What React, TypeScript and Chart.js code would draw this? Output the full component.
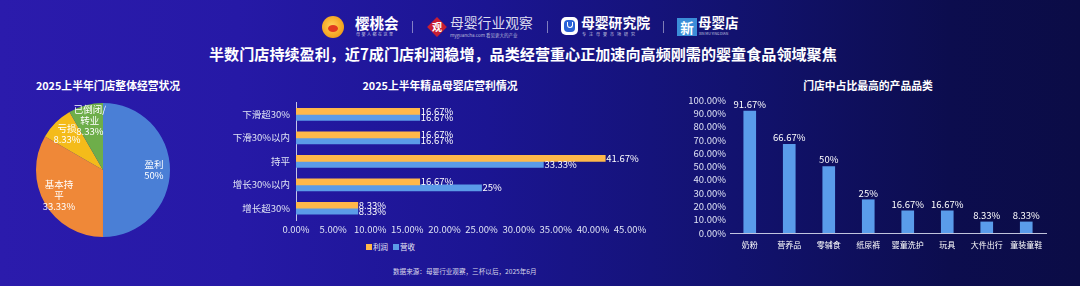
import React, { useEffect, useRef } from "react";
import Chart from "chart.js/auto";

const FONT = '"Noto Sans CJK SC", "Noto Sans", sans-serif';

// Pie: overall store status
const pieTitle = "2025上半年门店整体经营状况";
const pieLabels = ["盈利", "基本持平", "亏损", "已倒闭/转业"];
const pieLabelLines = [["盈利"], ["基本持", "平"], ["亏损"], ["已倒闭/", "转业"]];
const pieValues = [50, 33.33, 8.33, 8.33];
const pieColors = ["#4a7fd6", "#ef8838", "#f4bb1a", "#6eae4a"];

// Horizontal bars: profit / revenue
const barTitle = "2025上半年精品母婴店营利情况";
const barCategories = ["下滑超30%", "下滑30%以内", "持平", "增长30%以内", "增长超30%"];
const profitValues = [16.67, 16.67, 41.67, 16.67, 8.33];
const revenueValues = [16.67, 16.67, 33.33, 25, 8.33];
const seriesNames = ["利润", "营收"];
const seriesColors = ["#ffb84a", "#5b9be8"];

// Columns: top product categories
const colTitle = "门店中占比最高的产品品类";
const colCategories = ["奶粉", "营养品", "零辅食", "纸尿裤", "婴童洗护", "玩具", "大件出行", "童装童鞋"];
const colValues = [91.67, 66.67, 50, 25, 16.67, 16.67, 8.33, 8.33];
const colColor = "#5a9cea";

const headline = "半数门店持续盈利，近7成门店利润稳增，品类经营重心正加速向高频刚需的婴童食品领域聚焦";
const sourceText = "数据来源：母婴行业观察，三杯以后，2025年6月";

const fmt = (v: number) => `${Math.round(v * 100) / 100}%`;
const TICK = "#dfe3f5";

function PieChart() {
  const ref = useRef<HTMLCanvasElement>(null);
  useEffect(() => {
    const labelPlugin = {
      id: "pieLabels",
      afterDatasetsDraw(chart: any) {
        const ctx = chart.ctx;
        const meta = chart.getDatasetMeta(0);
        ctx.save();
        ctx.font = `9.5px ${FONT}`;
        ctx.fillStyle = "#ffffff";
        ctx.textAlign = "center";
        ctx.textBaseline = "middle";
        meta.data.forEach((arc: any, i: number) => {
          const mid = (arc.startAngle + arc.endAngle) / 2;
          const d = arc.outerRadius * 0.76;
          const cx = arc.x + Math.cos(mid) * d;
          const cy = arc.y + Math.sin(mid) * d;
          const lines = [...pieLabelLines[i], fmt(pieValues[i])];
          const lh = 11;
          const y0 = cy - ((lines.length - 1) * lh) / 2;
          lines.forEach((l, k) => ctx.fillText(l, cx, y0 + k * lh));
        });
        ctx.restore();
      },
    };
    const chart = new Chart(ref.current!, {
      type: "pie",
      data: {
        labels: pieLabels,
        datasets: [{ data: pieValues, backgroundColor: pieColors, borderWidth: 0 }],
      },
      options: {
        responsive: false,
        animation: false,
        layout: { padding: 0 },
        plugins: { legend: { display: false }, tooltip: { enabled: false } },
      },
      plugins: [labelPlugin],
    } as any);
    return () => chart.destroy();
  }, []);
  return (
    <canvas
      ref={ref}
      width={134}
      height={134}
      style={{ position: "absolute", left: 36, top: 103, width: 134, height: 134 }}
    />
  );
}

function BarChart() {
  const ref = useRef<HTMLCanvasElement>(null);
  useEffect(() => {
    const labelPlugin = {
      id: "barLabels",
      afterDatasetsDraw(chart: any) {
        const ctx = chart.ctx;
        ctx.save();
        ctx.font = `9.5px ${FONT}`;
        ctx.fillStyle = "#ffffff";
        ctx.textAlign = "left";
        ctx.textBaseline = "middle";
        chart.data.datasets.forEach((ds: any, di: number) => {
          const meta = chart.getDatasetMeta(di);
          meta.data.forEach((bar: any, i: number) => {
            ctx.fillText(fmt(ds.data[i]), bar.x + 1, bar.y);
          });
        });
        ctx.restore();
      },
    };
    const chart = new Chart(ref.current!, {
      type: "bar",
      data: {
        labels: barCategories,
        datasets: [
          { label: seriesNames[0], data: profitValues, backgroundColor: seriesColors[0], barThickness: 6 },
          { label: seriesNames[1], data: revenueValues, backgroundColor: seriesColors[1], barThickness: 6 },
        ],
      },
      options: {
        indexAxis: "y",
        responsive: false,
        animation: false,
        layout: { padding: { top: 0, right: 30, left: 0, bottom: 0 } },
        plugins: { legend: { display: false }, tooltip: { enabled: false } },
        scales: {
          x: {
            min: 0,
            max: 45,
            ticks: {
              stepSize: 5,
              color: TICK,
              font: { family: FONT, size: 9.5 },
              padding: 4,
              maxRotation: 0,
              autoSkip: false,
              callback: (v: any) => `${Number(v).toFixed(2)}%`,
            },
            grid: { display: false, drawTicks: false },
            border: { display: false },
            afterFit: (s: any) => {
              s.height = 21;
            },
          },
          y: {
            ticks: { color: TICK, font: { family: FONT, size: 9.5 }, padding: 6, autoSkip: false },
            grid: { display: false, drawTicks: false },
            border: { display: true, color: "rgba(225,228,245,0.85)", width: 1 },
            afterFit: (s: any) => {
              s.width = 96;
            },
          },
        },
      },
      plugins: [labelPlugin],
    } as any);
    return () => chart.destroy();
  }, []);
  return (
    <canvas
      ref={ref}
      width={460}
      height={150}
      style={{ position: "absolute", left: 200, top: 91, width: 460, height: 150 }}
    />
  );
}

function ColumnChart() {
  const ref = useRef<HTMLCanvasElement>(null);
  useEffect(() => {
    const labelPlugin = {
      id: "colLabels",
      afterDatasetsDraw(chart: any) {
        const ctx = chart.ctx;
        ctx.save();
        ctx.font = `9.5px ${FONT}`;
        ctx.fillStyle = "#ffffff";
        ctx.textAlign = "center";
        ctx.textBaseline = "bottom";
        const meta = chart.getDatasetMeta(0);
        meta.data.forEach((bar: any, i: number) => {
          ctx.fillText(fmt(colValues[i]), bar.x, bar.y - 2);
        });
        ctx.restore();
      },
    };
    const chart = new Chart(ref.current!, {
      type: "bar",
      data: {
        labels: colCategories,
        datasets: [{ data: colValues, backgroundColor: colColor, barThickness: 12 }],
      },
      options: {
        responsive: false,
        animation: false,
        layout: { padding: { top: 10, right: 34, left: 0, bottom: 0 } },
        plugins: { legend: { display: false }, tooltip: { enabled: false } },
        scales: {
          x: {
            ticks: { color: "#ffffff", font: { family: FONT, size: 8 }, padding: 7, maxRotation: 0, autoSkip: false },
            grid: { display: false, drawTicks: false },
            border: { display: true, color: "rgba(225,228,245,0.85)", width: 1 },
            afterFit: (s: any) => {
              s.height = 22;
            },
          },
          y: {
            min: 0,
            max: 100,
            ticks: {
              stepSize: 10,
              autoSkip: false,
              color: TICK,
              font: { family: FONT, size: 9.5 },
              padding: 4,
              callback: (v: any) => `${Number(v).toFixed(2)}%`,
            },
            grid: { display: false, drawTicks: false },
            border: { display: false },
            afterFit: (s: any) => {
              s.width = 70;
            },
          },
        },
      },
      plugins: [labelPlugin],
    } as any);
    return () => chart.destroy();
  }, []);
  return (
    <canvas
      ref={ref}
      width={420}
      height={165}
      style={{ position: "absolute", left: 660, top: 90, width: 420, height: 165 }}
    />
  );
}

const abs = (s: React.CSSProperties): React.CSSProperties => ({ position: "absolute", whiteSpace: "nowrap", ...s });

function Divider({ x }: { x: number }) {
  return <div style={abs({ left: x, top: 21, width: 1, height: 12, background: "rgba(255,255,255,0.45)" })} />;
}

function Header() {
  return (
    <>
      {/* 樱桃会 */}
      <div
        style={abs({
          left: 322,
          top: 16,
          width: 22,
          height: 22,
          borderRadius: "50%",
          background: "radial-gradient(circle at 45% 45%, #ffd15a 0%, #f5a623 60%, #e08a10 100%)",
        })}
      >
        <div style={abs({ left: 6, top: 9, width: 10, height: 7, borderRadius: "50%", background: "#e23a1f" })} />
      </div>
      <div style={abs({ left: 355, top: 13, fontFamily: FONT, fontSize: 14.5, fontWeight: 700, color: "#ffffff", lineHeight: "19px" })}>
        樱桃会
      </div>
      <div style={abs({ left: 356, top: 32, fontFamily: FONT, fontSize: 4, color: "#c8c8e0", lineHeight: "5px", letterSpacing: 1.5 })}>
        母婴人都在这里
      </div>
      <Divider x={412} />
      {/* 母婴行业观察 */}
      <div style={abs({ left: 430, top: 20, width: 14, height: 14, background: "#c81e32", transform: "rotate(45deg)" })} />
      <div style={abs({ left: 431, top: 19, width: 12, fontFamily: FONT, fontSize: 10, fontWeight: 700, color: "#ffffff", lineHeight: "16px", textAlign: "center" })}>
        观
      </div>
      <div style={abs({ left: 450, top: 13, fontFamily: FONT, fontSize: 13.8, color: "#dcdcee", lineHeight: "18px" })}>
        母婴行业观察
      </div>
      <div style={abs({ left: 450, top: 32, fontFamily: FONT, fontSize: 4.5, color: "#b8b8d8", lineHeight: "6px" })}>
        myguancha.com 看见更大的产业
      </div>
      <Divider x={547} />
      {/* 母婴研究院 */}
      <div style={abs({ left: 561, top: 17, width: 17, height: 18, borderRadius: 5, background: "#ffffff" })}>
        <div style={abs({ left: 3, top: 3, width: 11, height: 12, borderRadius: 4, background: "#2a63d8" })}>
          <div style={abs({ left: 3, top: 2, width: 4, height: 5, borderRadius: "0 0 3px 3px", border: "1px solid #ffffff", borderTop: "none" })} />
        </div>
      </div>
      <div style={abs({ left: 581, top: 13, fontFamily: FONT, fontSize: 13.8, fontWeight: 700, color: "#ffffff", lineHeight: "18px" })}>
        母婴研究院
      </div>
      <div style={abs({ left: 582, top: 32, fontFamily: FONT, fontSize: 4, color: "#c8c8e0", lineHeight: "5px", letterSpacing: 3 })}>
        专注母婴市场研究
      </div>
      <Divider x={663} />
      {/* 新母婴店 */}
      <div style={abs({ left: 677, top: 18, width: 20, height: 18, background: "#3b8dd8", fontFamily: FONT, fontSize: 13.5, fontWeight: 700, color: "#ffffff", lineHeight: "18px", textAlign: "center" })}>
        新
      </div>
      <div style={abs({ left: 698, top: 13, fontFamily: FONT, fontSize: 13.5, fontWeight: 700, color: "#ffffff", lineHeight: "18px" })}>
        母婴店
      </div>
      <div style={abs({ left: 699, top: 31, fontFamily: FONT, fontSize: 3.5, color: "#c8c8e0", lineHeight: "5px" })}>
        XIN MU YING DIAN
      </div>
      <div style={abs({ left: 209, top: 43, fontFamily: FONT, fontSize: 15.1, fontWeight: 700, color: "#ffffff", lineHeight: "20px" })}>
        {headline}
      </div>
    </>
  );
}

export default function App() {
  useEffect(() => {
    document.body.style.margin = "0";
  }, []);
  const titleStyle = (cx: number): React.CSSProperties =>
    abs({
      left: cx - 150,
      width: 300,
      top: 77,
      textAlign: "center",
      fontFamily: FONT,
      fontSize: 10.8,
      fontWeight: 700,
      color: "#ffffff",
      lineHeight: "16px",
    });
  return (
    <div
      style={{
        position: "absolute",
        left: 0,
        top: 0,
        width: 1080,
        height: 286,
        overflow: "hidden",
        background: "linear-gradient(90deg, #2b1bac 0%, #2619a6 22%, #1b1592 45%, #12126f 68%, #0c0d4e 88%, #0b0c46 100%)",
      }}
    >
      <Header />
      <div style={titleStyle(108)}>{pieTitle}</div>
      <div style={titleStyle(440)}>{barTitle}</div>
      <div style={titleStyle(868)}>{colTitle}</div>
      <PieChart />
      <BarChart />
      <ColumnChart />
      {/* legend for the bar chart */}
      <div style={abs({ left: 366, top: 244, width: 6, height: 6, background: seriesColors[0] })} />
      <div style={abs({ left: 373, top: 241, fontFamily: FONT, fontSize: 7.5, color: "#e8e8f5", lineHeight: "12px" })}>
        {seriesNames[0]}
      </div>
      <div style={abs({ left: 393, top: 244, width: 6, height: 6, background: seriesColors[1] })} />
      <div style={abs({ left: 400, top: 241, fontFamily: FONT, fontSize: 7.5, color: "#e8e8f5", lineHeight: "12px" })}>
        {seriesNames[1]}
      </div>
      <div style={abs({ left: 393, top: 266, fontFamily: FONT, fontSize: 6.6, color: "#d8d8ea", lineHeight: "10px" })}>
        {sourceText}
      </div>
    </div>
  );
}
